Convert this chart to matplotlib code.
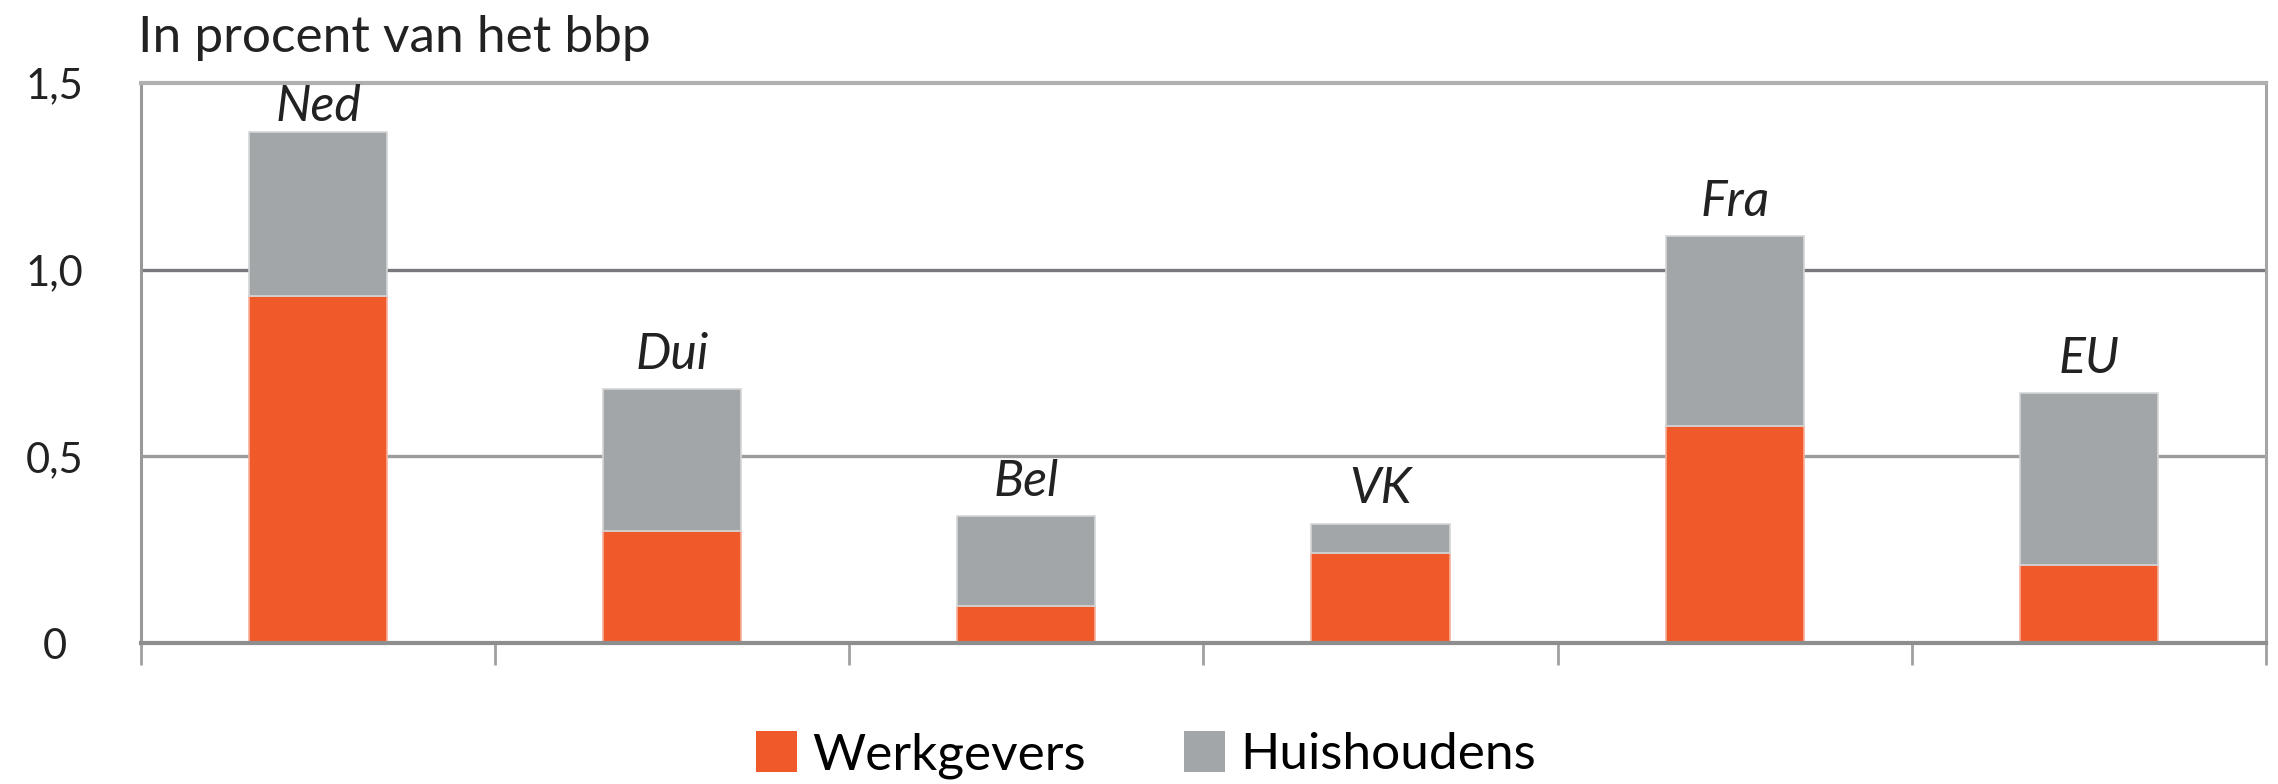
import numpy as np
import matplotlib
matplotlib.use("Agg")
import matplotlib.pyplot as plt
from matplotlib.patches import Patch

plt.rcParams['font.family'] = ['Lato', 'DejaVu Sans']

# data
landen = ["Ned", "Dui", "Bel", "VK", "Fra", "EU"]
werkgevers = [0.93, 0.30, 0.10, 0.24, 0.58, 0.21]
huishoudens = [0.44, 0.38, 0.24, 0.08, 0.51, 0.46]
yticks = [0, 0.5, 1.0, 1.5]
yticklabels = ["0", "0,5", "1,0", "1,5"]

oranje = "#F05A2A"
grijs = "#A3A6A8"

fig = plt.figure(figsize=(22.78, 7.84), dpi=100)
ax = fig.add_axes([0.0619, 0.1798, 0.9328, 0.7143])

x = np.arange(len(landen))
w = 0.39
ax.bar(x, werkgevers, w, color=oranje, edgecolor="#f7b09a", linewidth=1.2, zorder=3)
ax.bar(x, huishoudens, w, bottom=werkgevers, color=grijs, edgecolor="#d4d5d6", linewidth=1.2, zorder=3)

totaal = np.array(werkgevers) + np.array(huishoudens)
for xi, t, naam in zip(x, totaal, landen):
    off = 8 if t < 1.3 else 1   # Ned staat tegen de bovenrand aan
    ax.annotate(naam, (xi, t), xytext=(0, off), textcoords="offset points",
                ha="center", va="bottom", fontsize=36, style="italic", color="#222222")

# gridlines
ax.axhline(0.5, color="#9c9c9c", lw=2.4, zorder=1)
ax.axhline(1.0, color="#78787c", lw=2.4, zorder=1)

ax.set_xlim(-0.5, 5.5)
ax.set_ylim(0, 1.5)
ax.set_yticks(yticks)
ax.set_yticklabels(yticklabels, fontsize=30, color="#222222")
ax.tick_params(axis="y", length=0, pad=62)
for lbl in ax.get_yticklabels():
    lbl.set_horizontalalignment("center")

ax.set_xticks(np.arange(-0.5, 6.0, 1.0))
ax.set_xticklabels([])
ax.tick_params(axis="x", length=16, width=2, color="#a0a0a0", direction="out")

ax.spines["left"].set_color("#999999")
ax.spines["left"].set_linewidth(2.2)
ax.spines["right"].set_color("#a5a5a5")
ax.spines["right"].set_linewidth(2.2)
ax.spines["top"].set_color("#b0b0b0")
ax.spines["top"].set_linewidth(3)
ax.spines["bottom"].set_color("#8e8e8e")
ax.spines["bottom"].set_linewidth(3)
ax.spines["bottom"].set_zorder(4)

fig.text(0.0606, 0.952, "In procent van het bbp", fontsize=37, ha="left", va="center", color="#222222")

handles = [Patch(facecolor=oranje, edgecolor="none"), Patch(facecolor=grijs, edgecolor="none")]
fig.legend(handles, ["Werkgevers", "Huishoudens"], loc="center", bbox_to_anchor=(0.503, 0.037),
           ncol=2, frameon=False, fontsize=37, handlelength=0.8, handleheight=0.85,
           handletextpad=0.3, columnspacing=1.9)

fig.savefig("out.png", dpi=100, facecolor="white")
